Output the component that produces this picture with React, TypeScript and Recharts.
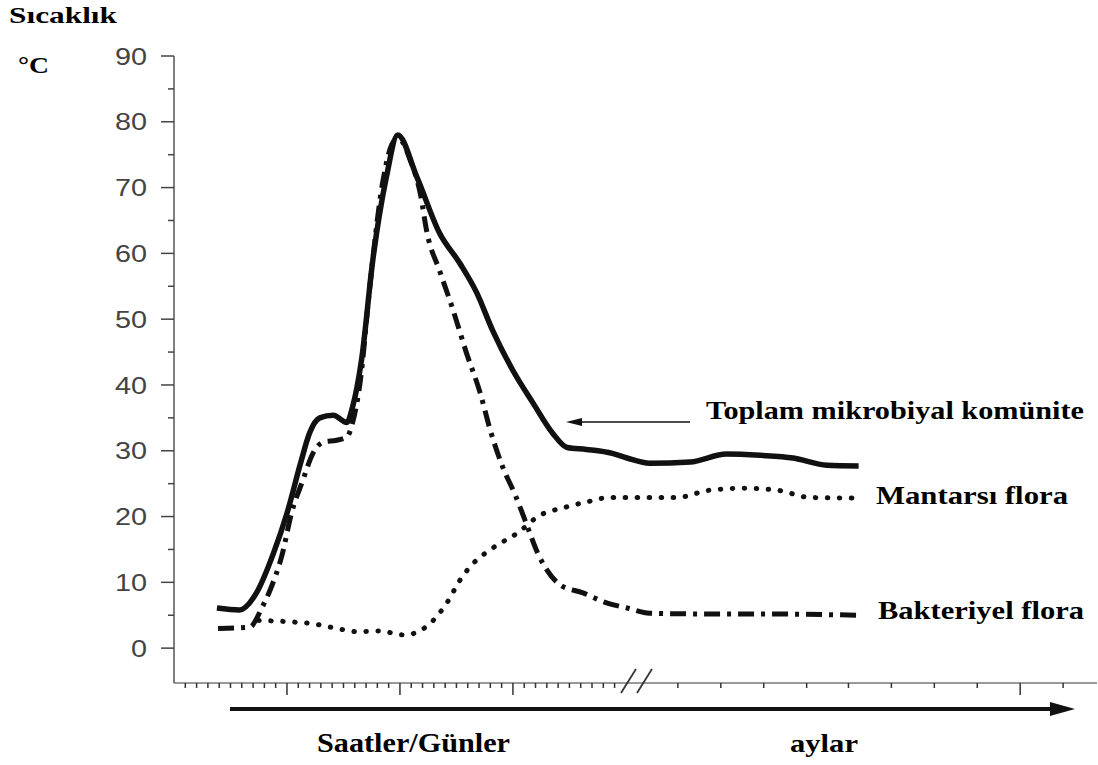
import React from 'react';
import { LineChart, Line, XAxis, YAxis } from 'recharts';

// x is measured in small axis ticks (hours/days part, then the months part after the break)
const toplamX = [3.8, 5.8, 7.3, 8.8, 10.0, 11.2, 12.0, 12.9, 14.1, 15.3, 15.8, 16.6, 17.6, 18.8, 19.8, 21.5, 23.5, 25.3, 26.8, 28.2, 30.0, 31.8, 33.5, 34.8, 36.5, 38.8, 40.1, 42.1, 45.7, 48.9, 51.9, 54.8, 57.8, 60.6];
const toplamY = [6.1, 5.8, 8.4, 14.4, 20.5, 28.1, 32.7, 35.0, 35.4, 34.3, 36.6, 43.8, 59.0, 71.6, 78.0, 71.6, 63.1, 58.5, 54.0, 48.3, 42.2, 37.2, 32.7, 30.5, 30.2, 29.6, 28.9, 28.1, 28.3, 29.5, 29.3, 28.9, 27.8, 27.7];

const bakteriX = [3.9, 6.7, 7.8, 8.5, 9.6, 10.4, 11.4, 12.3, 13.2, 14.4, 15.3, 15.8, 16.5, 17.3, 18.5, 19.6, 20.0, 20.9, 21.8, 22.4, 23.5, 24.7, 25.9, 27.1, 28.0, 29.1, 30.2, 31.3, 32.2, 33.0, 34.2, 36.2, 38.1, 40.1, 42.1, 46.5, 51.9, 60.6];
const bakteriY = [3.0, 3.2, 6.2, 8.8, 14.4, 20.5, 25.5, 29.6, 31.3, 31.6, 32.1, 34.2, 40.7, 54.4, 71.1, 77.2, 77.2, 74.2, 69.1, 63.1, 57.4, 51.4, 44.8, 38.8, 33.1, 27.5, 23.3, 18.4, 14.4, 11.9, 9.6, 8.4, 7.0, 6.1, 5.3, 5.2, 5.2, 5.0];

const mantarX = [7.5, 10.3, 12.3, 14.4, 16.2, 18.2, 20.4, 22.5, 24.2, 25.3, 26.5, 28.2, 30.4, 32.4, 34.4, 36.5, 38.6, 40.6, 44.5, 47.4, 50.4, 53.4, 56.3, 60.0];
const mantarY = [4.2, 4.0, 3.7, 3.0, 2.5, 2.6, 2.0, 3.5, 7.0, 10.3, 12.9, 15.2, 17.5, 20.2, 21.3, 22.2, 22.9, 22.9, 22.9, 24.0, 24.3, 24.0, 22.9, 22.8];

const yTicks = [0, 5, 10, 15, 20, 25, 30, 35, 40, 45, 50, 55, 60, 65, 70, 75, 80, 85, 90];
const hourTicks = Array.from({ length: 39 }, (_, i) => i + 1);
const monthTicks = [44.6, 48.4, 52.2, 56.0, 59.7, 63.5, 67.3, 71.1, 74.9, 78.7];
const majorXTicks = [10, 20, 30, 74.9];

const toPoints = (xs: number[], ys: number[]) => xs.map((x, i) => ({ x, y: ys[i] }));

const serif = '"Liberation Serif", "Times New Roman", serif';

const YTick = (props: any) => {
  const { x, y, payload } = props;
  const major = payload.value % 10 === 0;
  return (
    <g>
      <line x1={x - (major ? 13 : 6)} y1={y} x2={x} y2={y} stroke="#444" strokeWidth={1.5} />
      {major && (
        <text
          transform={`translate(${x - 27},${y}) scale(1.2,1)`}
          textAnchor="end"
          dy="0.36em"
          fontFamily='"Liberation Sans", Arial, sans-serif'
          fontSize={24}
          fill="#444"
        >
          {payload.value}
        </text>
      )}
    </g>
  );
};

const XTick = (props: any) => {
  const { x, y, payload } = props;
  const major = majorXTicks.includes(payload.value);
  return <line x1={x} y1={y} x2={x} y2={y + (major ? 12 : 5)} stroke="#333" strokeWidth={1.5} />;
};

export default function App() {
  return (
    <div style={{ position: 'absolute', left: 0, top: 0, width: 1098, height: 765, background: '#fff' }}>
      <LineChart width={1098} height={765} margin={{ top: 56, right: 1, bottom: 52, left: 114 }}>
        <XAxis
          type="number"
          dataKey="x"
          domain={[0, 81.7]}
          ticks={[...hourTicks, ...monthTicks]}
          interval={0}
          tick={<XTick />}
          tickLine={false}
          tickSize={0}
          tickMargin={0}
          height={30}
          stroke="#777"
          strokeWidth={1.5}
          allowDuplicatedCategory={false}
        />
        <YAxis
          type="number"
          domain={[-5.3, 90]}
          ticks={yTicks}
          interval={0}
          tick={<YTick />}
          tickLine={false}
          tickSize={0}
          tickMargin={0}
          width={60}
          stroke="#555"
          strokeWidth={1.5}
        />
        <Line
          data={toPoints(mantarX, mantarY)}
          dataKey="y"
          type="monotone"
          stroke="#111"
          strokeWidth={5}
          strokeDasharray="0.5 11.5"
          strokeLinecap="round"
          dot={false}
          isAnimationActive={false}
        />
        <Line
          data={toPoints(bakteriX, bakteriY)}
          dataKey="y"
          type="monotone"
          stroke="#111"
          strokeWidth={5}
          strokeDasharray="16 7 4 7"
          dot={false}
          isAnimationActive={false}
        />
        <Line
          data={toPoints(toplamX, toplamY)}
          dataKey="y"
          type="monotone"
          stroke="#111"
          strokeWidth={5.5}
          dot={false}
          isAnimationActive={false}
        />
      </LineChart>
      <svg width={1098} height={765} style={{ position: 'absolute', left: 0, top: 0, pointerEvents: 'none' }}>
        <text x={9} y={23} fontFamily={serif} fontWeight="bold" fontSize={24} textLength={108} lengthAdjust="spacingAndGlyphs">Sıcaklık</text>
        <text x={18} y={73} fontFamily={serif} fontWeight="bold" fontSize={24} textLength={31} lengthAdjust="spacingAndGlyphs">°C</text>
        <text x={706} y={419} fontFamily={serif} fontWeight="bold" fontSize={25} textLength={378} lengthAdjust="spacingAndGlyphs">Toplam mikrobiyal komünite</text>
        <text x={876} y={504} fontFamily={serif} fontWeight="bold" fontSize={25} textLength={192} lengthAdjust="spacingAndGlyphs">Mantarsı flora</text>
        <text x={878} y={619} fontFamily={serif} fontWeight="bold" fontSize={25} textLength={206} lengthAdjust="spacingAndGlyphs">Bakteriyel flora</text>
        <text x={317} y={752} fontFamily={serif} fontWeight="bold" fontSize={27} textLength={193} lengthAdjust="spacingAndGlyphs">Saatler/Günler</text>
        <text x={790} y={752} fontFamily={serif} fontWeight="bold" fontSize={26} textLength={68} lengthAdjust="spacingAndGlyphs">aylar</text>
        {/* pointer from label to the total curve */}
        <line x1={580} y1={422} x2={690} y2={422} stroke="#111" strokeWidth={1.5} />
        <polygon points="566,422 582,418 582,426" fill="#111" />
        {/* axis break marks */}
        <line x1={621} y1={693} x2={636} y2={669} stroke="#333" strokeWidth={1.8} />
        <line x1={637} y1={693} x2={652} y2={669} stroke="#333" strokeWidth={1.8} />
        {/* time arrow */}
        <line x1={230} y1={709} x2={1055} y2={709} stroke="#111" strokeWidth={4} />
        <polygon points="1050,702 1075,709 1050,716" fill="#111" />
      </svg>
    </div>
  );
}
